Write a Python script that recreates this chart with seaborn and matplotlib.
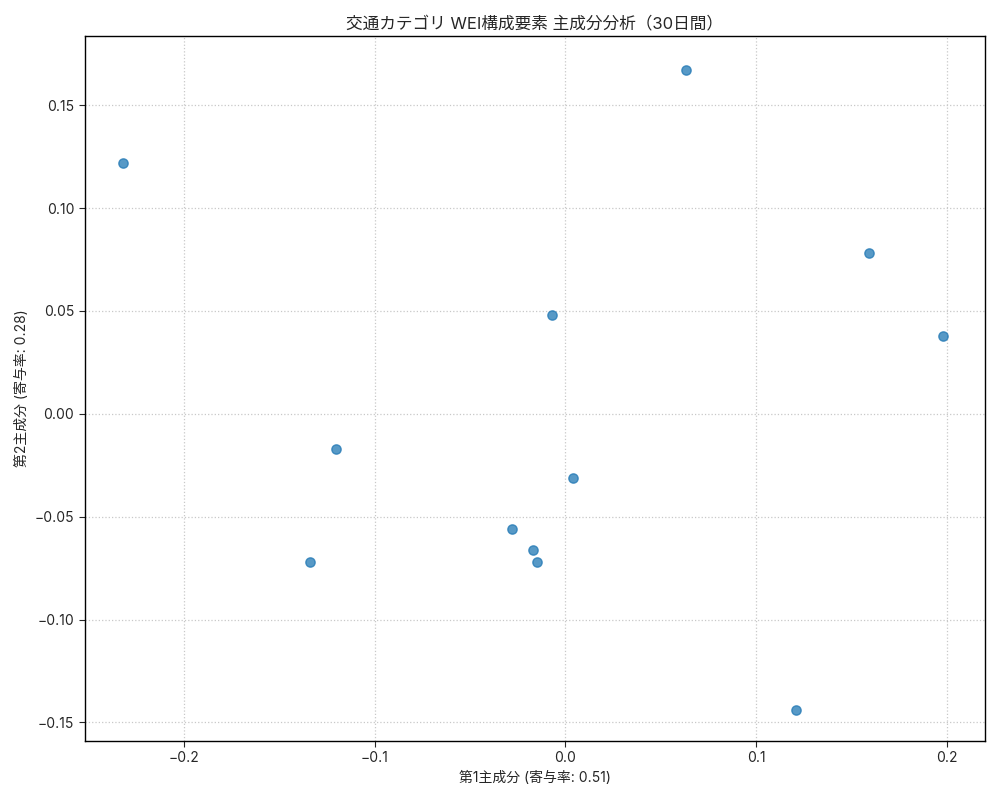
import numpy as np
import pandas as pd
import matplotlib
matplotlib.use("Agg")
import matplotlib.pyplot as plt
import seaborn as sns

# PCA scores
pc1 = [-0.232, 0.063, 0.159, 0.198, -0.007, -0.120, 0.004, -0.134, -0.028, -0.017, -0.015, 0.121]
pc2 = [0.122, 0.167, 0.078, 0.038, 0.048, -0.017, -0.031, -0.072, -0.056, -0.066, -0.072, -0.144]
ratio1 = 0.51
ratio2 = 0.28

df = pd.DataFrame({"pc1": pc1, "pc2": pc2})

sns.set_style("white")
plt.rcParams['font.family'] = ['Inter', 'Noto Sans CJK JP', 'DejaVu Sans']
plt.rcParams['axes.unicode_minus'] = True

fig, ax = plt.subplots(figsize=(10, 8), dpi=100)
sns.scatterplot(data=df, x="pc1", y="pc2", ax=ax, s=45, alpha=0.75,
                color="#1f77b4", edgecolor="#1f77b4", linewidth=1)
ax.set_title("交通カテゴリ WEI構成要素 主成分分析（30日間）", fontsize=12)
ax.set_xlabel(f"第1主成分 (寄与率: {ratio1:.2f})")
ax.set_ylabel(f"第2主成分 (寄与率: {ratio2:.2f})")
ax.grid(True, linestyle=":", color="#c8c8c8", linewidth=0.9)
for sp in ax.spines.values():
    sp.set_color("black")
    sp.set_linewidth(1)
ax.tick_params(axis="both", which="both", length=4, direction="out", left=True, bottom=True)
ax.set_xlim(-0.252, 0.220)
ax.set_ylim(-0.159, 0.1835)
plt.tight_layout()
plt.savefig("out.png")
